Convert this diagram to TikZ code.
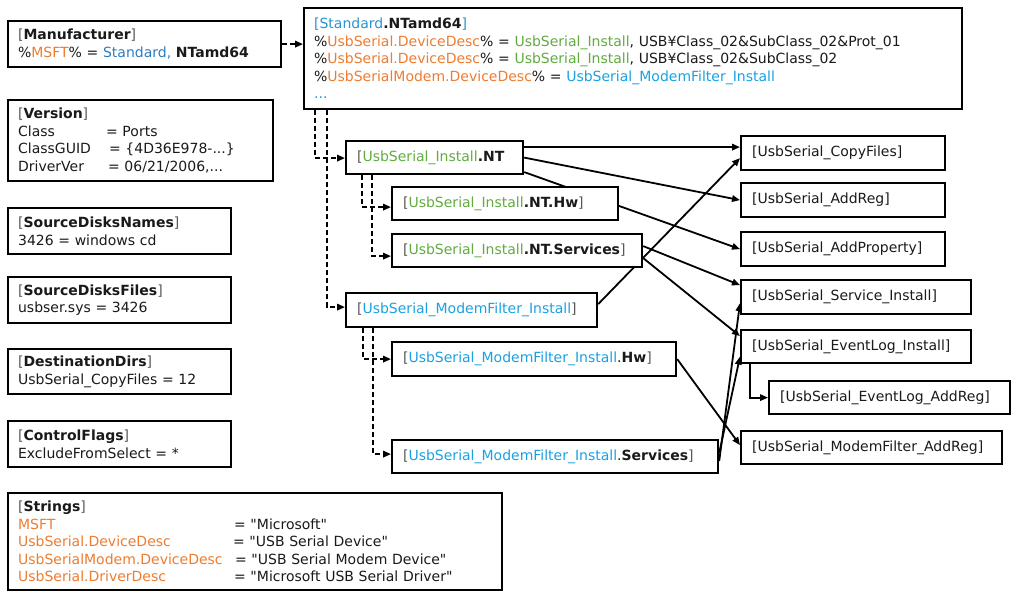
\documentclass[tikz,border=0pt]{standalone}
\usepackage{fontspec}
\setmainfont{DejaVu Sans}[Ligatures=TeXOff]
\usetikzlibrary{arrows.meta}
\definecolor{orng}{HTML}{ED7D31}
\definecolor{grn}{HTML}{62AC3F}
\definecolor{bluM}{HTML}{2E7DC2}
\definecolor{bluS}{HTML}{2B93D1}
\definecolor{bluL}{HTML}{1BA1E2}
\definecolor{brkc}{HTML}{595959}
\definecolor{txtc}{HTML}{1A1A1A}
\newcommand\grb[1]{\textcolor{brkc}{#1}}
\newcommand\og[1]{\textcolor{orng}{#1}}
\newcommand\gn[1]{\textcolor{grn}{#1}}
\newcommand\bl[1]{\textcolor{bluL}{#1}}
\pgfdeclarelayer{background}
\pgfsetlayers{background,main}
\tikzset{
  box/.style={draw=black, line width=2.2pt, fill=white, anchor=north west,
    inner xsep=10pt, inner ysep=0pt, align=left, text=txtc,
    font=\fontsize{14}{17.5}\selectfont},
  sbox/.style={box, inner xsep=11pt},
  conn/.style={line width=1.8pt, -{Triangle[length=8pt,width=6.5pt]}},
  dconn/.style={conn, dash pattern=on 5pt off 3pt},
}
\begin{document}
\begin{tikzpicture}[x=1pt,y=-1pt]
\useasboundingbox (0,0) rectangle (1020,596);

% left column
\node[box, minimum height=46pt, text width=253pt] (manu) at (7,20)
 {\grb{[}\textbf{Manufacturer}\grb{]}\\
  \%\og{MSFT}\% = \textcolor{bluM}{Standard,} \textbf{NTamd64}};
\node[box, minimum height=81pt, text width=245pt] (ver) at (7,99)
 {\grb{[}\textbf{Version}\grb{]}\\
  \makebox[88pt][l]{Class}= Ports\\
  \makebox[91pt][l]{ClassGUID}= \{4D36E978-...\}\\
  \makebox[90pt][l]{DriverVer}= 06/21/2006,...};
\node[box, minimum height=46pt, text width=203pt] (sdn) at (7,207)
 {\grb{[}\textbf{SourceDisksNames}\grb{]}\\ 3426 = windows cd};
\node[box, minimum height=46pt, text width=203pt] (sdf) at (7,276)
 {\grb{[}\textbf{SourceDisksFiles}\grb{]}\\ usbser.sys = 3426};
\node[box, minimum height=45pt, text width=203pt] (dd) at (7,348)
 {\grb{[}\textbf{DestinationDirs}\grb{]}\\ UsbSerial\_CopyFiles = 12};
\node[box, minimum height=46pt, text width=203pt] (cf) at (7,420)
 {\grb{[}\textbf{ControlFlags}\grb{]}\\ ExcludeFromSelect = *};
\node[box, minimum height=97pt, text width=474pt] (str) at (7,492)
 {\grb{[}\textbf{Strings}\grb{]}\\
  \makebox[216pt][l]{\og{MSFT}}= "Microsoft"\\
  \makebox[215pt][l]{\og{UsbSerial.DeviceDesc}}= "USB Serial Device"\\
  \makebox[217pt][l]{\og{UsbSerialModem.DeviceDesc}}= "USB Serial Modem Device"\\
  \makebox[216pt][l]{\og{UsbSerial.DriverDesc}}= "Microsoft USB Serial Driver"};

% models section
\node[box, minimum height=101pt, text width=638pt] (std) at (303,7)
 {\textcolor{bluS}{[Standard}\textbf{.NTamd64}\textcolor{bluS}{]}\\
  \%\og{UsbSerial.DeviceDesc}\% = \gn{UsbSerial\_Install}, USB¥Class\_02\&SubClass\_02\&Prot\_01\\
  \%\og{UsbSerial.DeviceDesc}\% = \gn{UsbSerial\_Install}, USB¥Class\_02\&SubClass\_02\\
  \%\og{UsbSerialModem.DeviceDesc}\% = \bl{UsbSerial\_ModemFilter\_Install}\\
  \bl{...}};

% install sections
\node[sbox, minimum height=33pt, text width=155pt] (nt) at (345,140)
 {\grb{[}\gn{UsbSerial\_Install}\textbf{.NT}};
\node[sbox, minimum height=33pt, text width=204pt] (nthw) at (391,186)
 {\grb{[}\gn{UsbSerial\_Install}\textbf{.NT.Hw}\grb{]}};
\node[sbox, minimum height=33pt, text width=228pt] (ntsv) at (391,233)
 {\grb{[}\gn{UsbSerial\_Install}\textbf{.NT.Services}\grb{]}};
\node[sbox, minimum height=34pt, text width=229pt] (mf) at (345,292)
 {\grb{[}\bl{UsbSerial\_ModemFilter\_Install}\grb{]}};
\node[sbox, minimum height=34pt, text width=262pt] (mfhw) at (391,341)
 {\grb{[}\bl{UsbSerial\_ModemFilter\_Install}.\textbf{Hw}\grb{]}};
\node[sbox, minimum height=33pt, text width=304pt] (mfsv) at (391,439)
 {\grb{[}\bl{UsbSerial\_ModemFilter\_Install}.\textbf{Services}\grb{]}};

% right column
\node[sbox, minimum height=34pt, text width=182pt] (copy) at (740,135) {[UsbSerial\_CopyFiles]};
\node[sbox, minimum height=34pt, text width=182pt] (areg) at (740,182) {[UsbSerial\_AddReg]};
\node[sbox, minimum height=34pt, text width=182pt] (aprop) at (740,231) {[UsbSerial\_AddProperty]};
\node[sbox, minimum height=34pt, text width=208pt] (si) at (740,279) {[UsbSerial\_Service\_Install]};
\node[sbox, minimum height=33pt, text width=208pt] (el) at (740,329) {[UsbSerial\_EventLog\_Install]};
\node[sbox, minimum height=33pt, text width=219pt] (ela) at (768,380) {[UsbSerial\_EventLog\_AddReg]};
\node[sbox, minimum height=33pt, text width=239pt] (mfar) at (740,430) {[UsbSerial\_ModemFilter\_AddReg]};

\begin{pgfonlayer}{background}
\fill[white] (0,0) rectangle (1020,596);
% dashed connectors
\draw[dconn] (manu.east) -- (manu.east -| std.west);
\draw[dconn] ([xshift=12pt]std.south west) |- ([yshift=-0.5pt]nt.west);
\draw[dconn] ([xshift=24pt]std.south west) |- ([yshift=3pt]mf.west);
\draw[dconn] ([xshift=17pt]nt.south west) |- ([yshift=-3.5pt]nthw.west);
\draw[dconn] ([xshift=27pt]nt.south west) |- ([yshift=-5.5pt]ntsv.west);
\draw[dconn] ([xshift=18pt]mf.south west) |- (mfhw.west);
\draw[dconn] ([xshift=28pt]mf.south west) |- ([yshift=2.5pt]mfsv.west);
% solid connectors
\draw[conn] ([yshift=10.5pt]nt.east) -- ([yshift=6pt]copy.west);
\draw[conn] (nt.east) -- (areg.west);
\draw[conn] ([yshift=-14.5pt]nt.east) -- (aprop.west);
\draw[conn] ([yshift=4.5pt]ntsv.east) -- ([yshift=12pt]si.west);
\draw[conn] ([yshift=-7.5pt]ntsv.east) -- ([yshift=10.5pt]el.west);
\draw[conn] ([yshift=6pt]mf.east) -- ([yshift=-5pt]copy.west);
\draw[conn] (mfhw.east) -- ([yshift=2.5pt]mfar.west);
\draw[conn] ([yshift=-4.5pt]mfsv.east) -- ([yshift=-6pt]si.west);
\draw[conn] ([yshift=3.5pt]mfsv.east) -- ([yshift=-10pt]el.west);
\draw[conn] ([xshift=10pt]el.south west) |- (ela.west);
\end{pgfonlayer}
\end{tikzpicture}
\end{document}
